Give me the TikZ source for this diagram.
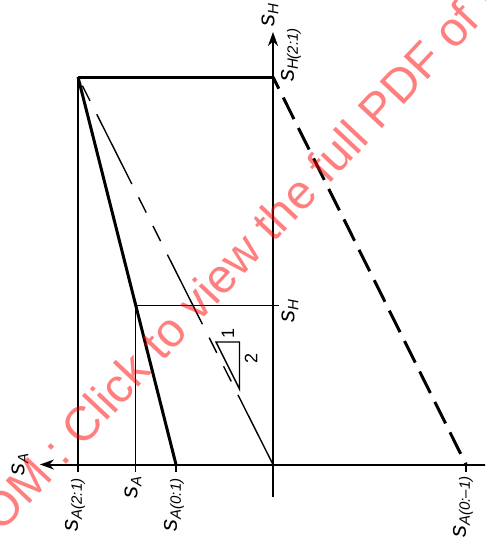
\documentclass[tikz,border=0pt]{standalone}
\usepackage{fontspec}
\setmainfont{Liberation Sans}
\usetikzlibrary{arrows.meta}
\newcommand\slab[1]{{\fontsize{24}{24}\selectfont\itshape s}\raisebox{-4pt}{\fontsize{15}{15}\selectfont\itshape #1}}
\begin{document}
\begin{tikzpicture}[x=1pt,y=-1pt,
  thickln/.style={line width=3pt},
  axisln/.style={line width=2pt},
  thinln/.style={line width=1.4pt},
  lab/.style={rotate=90, inner sep=0pt},
  tipend/.style={-{Stealth[length=14pt,width=10pt]}}]
\useasboundingbox (0,0) rectangle (485,546);
\clip (0,0) rectangle (485,546);
% coordinates
\coordinate (O) at (273,464.5);
\coordinate (xe) at (486,464.5);
\coordinate (xt) at (40,464.5);
\coordinate (yb) at (273,497);
\coordinate (yt) at (273,32);
\coordinate (P) at (78,77);
\coordinate (H21) at (273,77);
\coordinate (Q) at (135.5,305.5);
\coordinate (Hr) at (279,305.5);
\coordinate (T21) at (78,471.5);
\coordinate (TA) at (135.5,471.5);
\coordinate (A01) at (176,464.5);
\coordinate (T01) at (176,471.5);
\coordinate (A0m1) at (466,464.5);
\coordinate (T0m1) at (466,471.5);
\coordinate (Ta) at (216,342);
\coordinate (Tb) at (239.5,342);
\coordinate (Tc) at (239.5,389);
% axes
\draw[axisln,tipend] (xe) -- (xt);
\draw[axisln,tipend] (yb) -- (yt);
% thin construction lines
\draw[thinln] (P) -- (T21);
\draw[thinln] (TA) -- (Q) -- (Hr);
\draw[thinln] (A01) -- (T01);
\draw[thinln] (A0m1) -- (T0m1);
% thick lines
\draw[thickln] (P) -- (H21);
\draw[thickln] (P) -- (A01);
\draw[thickln,dash pattern=on 24pt off 10pt,dash phase=11pt] (H21) -- (A0m1);
% dash-dot line
\draw[thinln,dash pattern=on 78pt off 15pt on 17pt off 15pt on 17pt off 15pt] (O) -- (P);
% slope triangle
\draw[thinln] (Ta) -- (Tb) -- (Tc) -- cycle;
\node[lab,font=\fontsize{18}{18}\selectfont] (one) at (228,333) {1};
\node[lab,font=\fontsize{18}{18}\selectfont] (two) at (251,358) {2};
% labels
\node[lab] (lH) at (270,15) {\slab{H}};
\node[lab] (lH21) at (291,55) {\slab{H(2:1)}};
\node[lab] (lHm) at (290,311) {\slab{H}};
\node[lab] (lA) at (20,464) {\slab{A}};
\node[lab] (lA21) at (75,505) {\slab{A(2:1)}};
\node[lab] (lAm) at (133,487) {\slab{A}};
\node[lab] (lA01) at (174,505) {\slab{A(0:1)}};
\node[lab] (lA0m1) at (463,507) {\slab{A(0:\textendash1)}};
% watermark
\node[rotate=46.8,anchor=base west,inner sep=0pt,text=red,opacity=0.5,
  font=\fontsize{48}{48}\selectfont] (wm) at (-22,559) {COM : Click to view the full PDF of ISO};
\end{tikzpicture}
\end{document}
